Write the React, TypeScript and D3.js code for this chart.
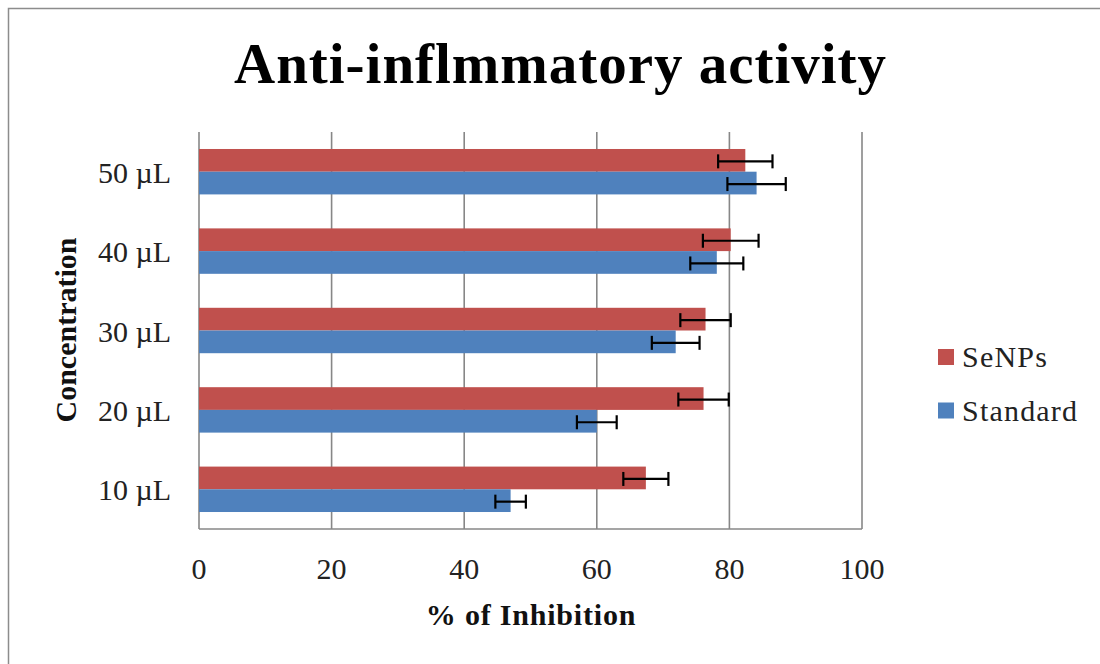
import React from "react";
import * as d3 from "d3";

const categories = ["10 µL", "20 µL", "30 µL", "40 µL", "50 µL"];
const seriesNames = ["SeNPs", "Standard"];
const senps = [67.4, 76.1, 76.4, 80.2, 82.4];
const senpsErr = [3.4, 3.8, 3.8, 4.2, 4.1];
const standard = [47.0, 60.0, 71.9, 78.1, 84.1];
const standardErr = [2.3, 3.0, 3.6, 4.0, 4.4];
const xTicks = [0, 20, 40, 60, 80, 100];
const colors = ["#C0504D", "#4F81BD"];

const W = 1100;
const H = 664;
const FONT = "'Liberation Serif', 'Times New Roman', serif";

export default function App() {
  const x = d3.scaleLinear().domain([0, 100]).range([199, 862]);
  const y = d3
    .scaleBand<string>()
    .domain([...categories].reverse())
    .range([132, 529]);
  const bw = y.bandwidth();
  const sub = d3
    .scaleBand<string>()
    .domain(seriesNames)
    .range([bw * 0.214, bw * 0.786]);
  const sbw = sub.bandwidth();
  const values = [senps, standard];
  const errs = [senpsErr, standardErr];
  const capH = 14;
  const grid = "#878787";

  return (
    <svg
      width={W}
      height={H}
      style={{ position: "absolute", left: 0, top: 0, background: "#fff" }}
    >
      <rect x={0} y={0} width={W} height={H} fill="#fff" />
      <rect x={8.5} y={8.5} width={W + 20} height={H + 20} fill="none" stroke="#8c8c8c" strokeWidth={1.5} />
      <text
        x={560}
        y={83}
        textAnchor="middle"
        fontFamily={FONT}
        fontWeight="bold"
        fontSize={57}
        textLength={652}
        lengthAdjust="spacing"
        fill="#000"
      >
        Anti-inflmmatory activity
      </text>

      {xTicks.map((t) => (
        <line key={"g" + t} x1={x(t)} x2={x(t)} y1={132} y2={529} stroke={grid} strokeWidth={1.6} />
      ))}
      <line x1={x(0)} x2={x(100)} y1={529} y2={529} stroke={grid} strokeWidth={1.6} />

      {seriesNames.map((s, si) =>
        categories.map((c, ci) => (
          <rect
            key={s + c}
            x={x(0)}
            y={(y(c) as number) + (sub(s) as number)}
            width={x(values[si][ci]) - x(0)}
            height={sbw}
            fill={colors[si]}
          />
        ))
      )}

      {seriesNames.map((s, si) =>
        categories.map((c, ci) => {
          const cy = (y(c) as number) + (sub(s) as number) + sbw / 2 + 1;
          const lo = x(values[si][ci] - errs[si][ci]);
          const hi = x(values[si][ci] + errs[si][ci]);
          return (
            <g key={"e" + s + c} stroke="#000" strokeWidth={2.2}>
              <line x1={lo} x2={hi} y1={cy} y2={cy} />
              <line x1={lo} x2={lo} y1={cy - capH / 2} y2={cy + capH / 2} />
              <line x1={hi} x2={hi} y1={cy - capH / 2} y2={cy + capH / 2} />
            </g>
          );
        })
      )}

      {xTicks.map((t) => (
        <text
          key={"t" + t}
          x={x(t)}
          y={579}
          textAnchor="middle"
          fontFamily={FONT}
          fontSize={30}
          fill="#222"
        >
          {t}
        </text>
      ))}
      {categories.map((c) => (
        <text
          key={"c" + c}
          x={171}
          y={(y(c) as number) + bw / 2 + 11}
          textAnchor="end"
          fontFamily={FONT}
          fontSize={30}
          fill="#222"
        >
          {c}
        </text>
      ))}

      <text
        x={531}
        y={625}
        textAnchor="middle"
        fontFamily={FONT}
        fontWeight="bold"
        fontSize={30}
        letterSpacing={0.8}
        fill="#111"
      >
        % of Inhibition
      </text>
      <text
        transform={`translate(76, 330) rotate(-90)`}
        textAnchor="middle"
        fontFamily={FONT}
        fontWeight="bold"
        fontSize={30}
        fill="#111"
      >
        Concentration
      </text>

      {seriesNames.map((s, si) => {
        const cy = si === 0 ? 357 : 410.5;
        return (
          <g key={"l" + s}>
            <rect x={938} y={cy - 8} width={16} height={16} fill={colors[si]} />
            <text x={962} y={cy + 10} fontFamily={FONT} fontSize={30} letterSpacing={1.2} fill="#222">
              {s}
            </text>
          </g>
        );
      })}
    </svg>
  );
}
